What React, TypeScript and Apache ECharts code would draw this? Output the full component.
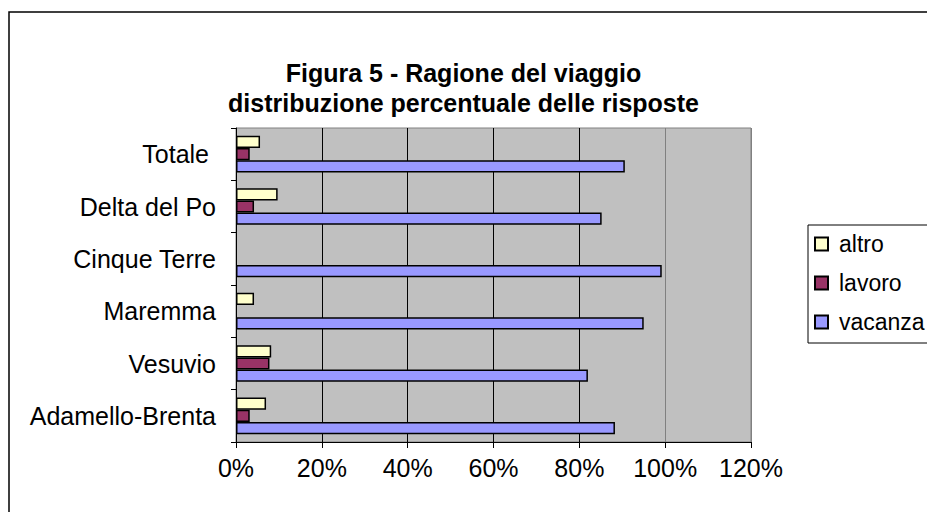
import React, { useEffect, useRef } from "react";
import * as echarts from "echarts";

const categories = ["Adamello-Brenta", "Vesuvio", "Maremma", "Cinque Terre", "Delta del Po", "Totale"];
const vacanza = [88.3, 82, 95, 99.2, 85.2, 90.6];
const lavoro = [3.2, 7.8, 0, 0, 4.2, 3.2];
const altro = [7, 8.2, 4.2, 0, 9.7, 5.6];
const seriesNames = ["altro", "lavoro", "vacanza"];
const xTicks = { min: 0, max: 120, interval: 20 };
const titleLines = ["Figura 5 - Ragione del viaggio", "distribuzione percentuale delle risposte"];

const FONT = "'Liberation Sans', Arial, sans-serif";

export default function App() {
  const ref = useRef<HTMLDivElement>(null);
  useEffect(() => {
    if (!ref.current) return;
    const chart = echarts.init(ref.current, null, { renderer: "svg" });
    const barStyle = (color: string) => ({ color, borderColor: "#000", borderWidth: 1.5 });
    const nz = (arr: number[]) => arr.map((v) => (v === 0 ? null : v));
    chart.setOption({
      animation: false,
      backgroundColor: "#fff",
      textStyle: { fontFamily: FONT },
      title: {
        text: titleLines.join("\n"),
        left: "center",
        top: 58,
        padding: 0,
        textStyle: { fontFamily: FONT, fontWeight: "bold", fontSize: 25, lineHeight: 30, color: "#000" },
      },
      graphic: [
        { type: "rect", shape: { x: 9, y: 12, width: 1000, height: 600 }, style: { fill: "none", stroke: "#000", lineWidth: 1.5 }, silent: true },
        { type: "rect", shape: { x: 808, y: 225, width: 200, height: 118 }, style: { fill: "#fff", stroke: "#000", lineWidth: 1 }, silent: true, z: -1 },
      ],
      legend: {
        data: seriesNames,
        orient: "vertical",
        left: 814,
        top: 230,
        icon: "rect",
        itemWidth: 13,
        itemHeight: 13,
        itemGap: 11,
        textStyle: { fontFamily: FONT, fontSize: 23, color: "#000", lineHeight: 28, padding: [0, 0, 0, 6] },
        padding: 0,
      },
      grid: {
        left: 236,
        right: 176,
        top: 128,
        bottom: 70,
        show: true,
        backgroundColor: "#C0C0C0",
        borderColor: "#808080",
        borderWidth: 1,
      },
      xAxis: {
        type: "value",
        min: xTicks.min,
        max: xTicks.max,
        interval: xTicks.interval,
        axisLabel: { formatter: "{value}%", fontSize: 25, color: "#000", margin: 13, fontFamily: FONT },
        axisLine: { show: true, lineStyle: { color: "#000", width: 1 } },
        axisTick: { show: true, length: 6, lineStyle: { color: "#000" } },
        splitLine: { show: true, lineStyle: { color: ["#000", "#000", "#000", "#000", "#000", "#808080", "#808080"], width: 1 } },
      },
      yAxis: {
        type: "category",
        data: categories,
        axisLabel: {
          fontSize: 25,
          color: "#000",
          margin: 20,
          fontFamily: FONT,
          formatter: (v: string) => (v === "Totale" ? `{pad|${v}}` : v),
          rich: { pad: { fontSize: 25, color: "#000", fontFamily: FONT, padding: [0, 7, 0, 0] } },
        },
        axisLine: { show: true, lineStyle: { color: "#000", width: 1 } },
        axisTick: { show: true, length: 5, lineStyle: { color: "#000" } },
        splitLine: { show: false },
      },
      series: [
        { name: "altro", type: "bar", data: nz(altro), itemStyle: barStyle("#FFFFCC"), barGap: "0%", barCategoryGap: "30%" },
        { name: "lavoro", type: "bar", data: nz(lavoro), itemStyle: barStyle("#993366"), barGap: "0%", barCategoryGap: "30%" },
        { name: "vacanza", type: "bar", data: nz(vacanza), itemStyle: barStyle("#9999FF"), barGap: "0%", barCategoryGap: "30%" },
      ],
    });
    return () => chart.dispose();
  }, []);
  return <div ref={ref} style={{ position: "fixed", left: 0, top: 0, width: 927, height: 512 }} />;
}
